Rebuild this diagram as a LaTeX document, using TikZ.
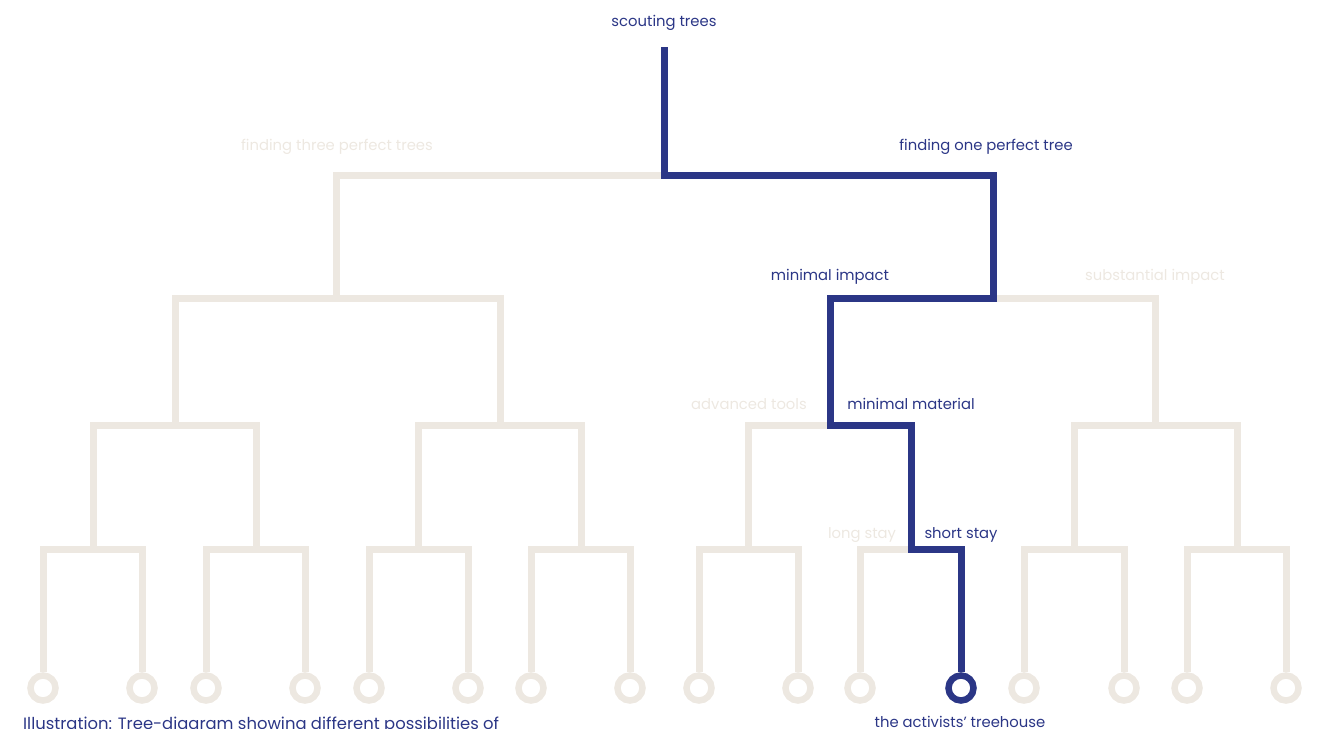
\documentclass[tikz,border=0pt]{standalone}
\usepackage{fontspec}
\setmainfont{Poppins}
\definecolor{navy}{HTML}{2B3686}
\definecolor{sand}{HTML}{EDE8E1}
\begin{document}
\begin{tikzpicture}[x=1pt,y=-1pt,
  branch/.style={draw=sand,line width=7pt},
  chosen/.style={draw=navy,line width=7pt},
  leaf/.style={circle,draw=sand,line width=6.5pt,minimum size=25pt,inner sep=0pt},
  leafon/.style={leaf,draw=navy},
  lbl/.style={anchor=base,inner sep=0pt,font=\fontsize{14.8}{17}\selectfont},
  lblon/.style={lbl,text=navy},
  lbloff/.style={lbl,text=sand}]
\useasboundingbox (0,0) rectangle (1319,728);
\clip (0,0) rectangle (1319,728);
% junctions
\coordinate (r) at (664,47);
\coordinate (n0) at (664,175);
\coordinate (n1) at (336,298);
\coordinate (n2) at (993,298);
\coordinate (n11) at (175,425);
\coordinate (n12) at (500,425);
\coordinate (n21) at (830,425);
\coordinate (n22) at (1155,425);
\coordinate (n111) at (93,549);
\coordinate (n112) at (256,549);
\coordinate (n121) at (418,549);
\coordinate (n122) at (581,549);
\coordinate (n211) at (748,549);
\coordinate (n212) at (911,549);
\coordinate (n221) at (1074,549);
\coordinate (n222) at (1237,549);
% leaves
\foreach \i/\x in {1/43,2/142,3/206,4/305,5/369,6/468,7/531,8/630,9/699,10/798,11/860,13/1024,14/1124,15/1187,16/1286}
  \node[leaf] (l\i) at (\x,688) {};
\node[leafon] (l12) at (961,688) {};
% beige tree
\draw[branch] (n0) -| (n1);
\draw[branch] (n0) -| (n2);
\draw[branch] (n1) -| (n11);
\draw[branch] (n1) -| (n12);
\draw[branch] (n2) -| (n21);
\draw[branch] (n2) -| (n22);
\draw[branch] (n11) -| (n111);
\draw[branch] (n11) -| (n112);
\draw[branch] (n12) -| (n121);
\draw[branch] (n12) -| (n122);
\draw[branch] (n21) -| (n211);
\draw[branch] (n21) -| (n212);
\draw[branch] (n22) -| (n221);
\draw[branch] (n22) -| (n222);
\draw[branch] (n111) -| (l1);
\draw[branch] (n111) -| (l2);
\draw[branch] (n112) -| (l3);
\draw[branch] (n112) -| (l4);
\draw[branch] (n121) -| (l5);
\draw[branch] (n121) -| (l6);
\draw[branch] (n122) -| (l7);
\draw[branch] (n122) -| (l8);
\draw[branch] (n211) -| (l9);
\draw[branch] (n211) -| (l10);
\draw[branch] (n212) -| (l11);
\draw[branch] (n221) -| (l13);
\draw[branch] (n221) -| (l14);
\draw[branch] (n222) -| (l15);
\draw[branch] (n222) -| (l16);
% chosen path
\draw[chosen] (r) -- (n0) -| (n2) -| (n21) -| (n212) -| (l12);
% labels
\node[lblon] (t0) at (664,26) {scouting trees};
\node[lbloff] (t1) at (337,150) {finding three perfect trees};
\node[lblon] (t2) at (986,150) {finding one perfect tree};
\node[lblon] (t3) at (830,280) {minimal impact};
\node[lbloff] (t4) at (1155,280) {substantial impact};
\node[lbloff] (t5) at (749,409) {advanced tools};
\node[lblon] (t6) at (911,409) {minimal material};
\node[lbloff] (t7) at (862,538) {long stay};
\node[lblon] (t8) at (961,538) {short stay};
\node[lblon] (t9) at (960,727) {the activists’ treehouse};
\node[lblon,anchor=base west,font=\fontsize{16.4}{19}\selectfont] (t10) at (23,729) {Illustration: Tree-diagram showing different possibilities of};
\end{tikzpicture}
\end{document}
